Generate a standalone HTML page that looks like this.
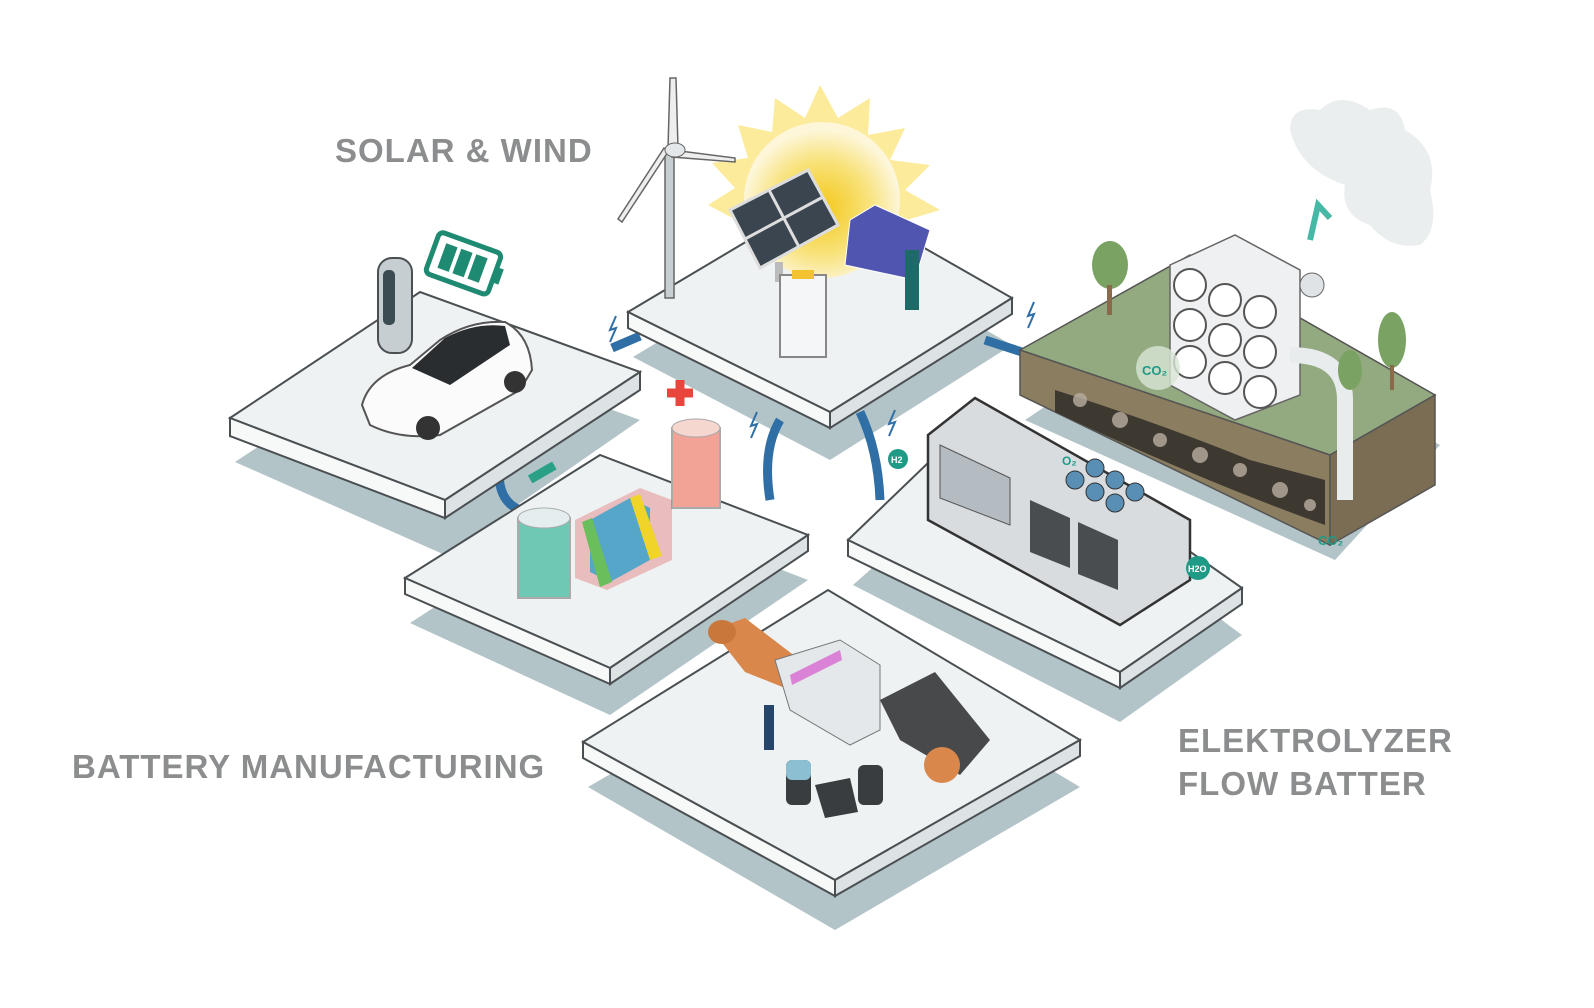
<!DOCTYPE html>
<html><head><meta charset="utf-8"><style>
html,body{margin:0;padding:0;background:#fff;width:1594px;height:1008px;overflow:hidden}
svg{display:block}
.t{font-family:"Liberation Sans",sans-serif;font-weight:bold;fill:#8b8d8e;letter-spacing:1px}
</style></head><body>
<svg width="1594" height="1008" viewBox="0 0 1594 1008" xmlns="http://www.w3.org/2000/svg">
<defs>
<radialGradient id="sun" cx="50%" cy="55%" r="50%"><stop offset="0" stop-color="#f4c81a"/><stop offset="0.6" stop-color="#f8e27a"/><stop offset="1" stop-color="#fdf6d8"/></radialGradient>
</defs>

<g fill="#b3c4c9">
<polygon points="235,462 420,340 640,420 445,555"/>
<polygon points="633,357 828,240 1012,345 830,460"/>
<polygon points="410,623 600,500 808,580 610,715"/>
<polygon points="853,585 1000,455 1242,635 1120,722"/>
<polygon points="588,787 838,642 1080,787 835,930"/>
<polygon points="1025,420 1190,310 1440,445 1335,560"/>
</g>

<g fill="none" stroke="#2f6fa6" stroke-width="9">
<path d="M612,348 L640,336"/>
<path d="M985,340 L1022,352"/>
<path d="M500,462 Q495,500 520,510"/>
<path d="M780,420 Q762,450 770,500"/>
<path d="M860,412 Q878,450 880,500"/>
</g>

<polygon points="230,418 420,292 640,372 445,500" fill="#eef2f3" stroke="#4a4f52" stroke-width="2"/>
<polygon points="230,418 445,500 445,518 230,436" fill="#f7f8f8" stroke="#4a4f52" stroke-width="2"/>
<polygon points="445,500 640,372 640,390 445,518" fill="#dde3e5" stroke="#4a4f52" stroke-width="2"/>
<rect x="378" y="258" width="34" height="95" rx="14" fill="#c7ced2" stroke="#4a4f52" stroke-width="2"/>
<rect x="383" y="270" width="12" height="55" rx="5" fill="#3c4a52"/>
<g transform="rotate(20 465 265)"><rect x="430" y="242" width="66" height="44" rx="5" fill="none" stroke="#1f8a72" stroke-width="5"/>
<rect x="440" y="251" width="12" height="26" fill="#1f8a72"/><rect x="456" y="251" width="12" height="26" fill="#1f8a72"/><rect x="472" y="251" width="12" height="26" fill="#1f8a72"/><rect x="497" y="256" width="6" height="16" fill="#1f8a72"/></g>
<path d="M362,405 Q370,375 410,365 L440,340 Q470,320 505,322 Q530,335 532,370 L520,390 L440,435 Q400,440 370,425 Z" fill="#fbfbfb" stroke="#555" stroke-width="2"/>
<path d="M412,368 L445,338 Q475,322 505,326 L510,345 L450,385 Z" fill="#2a2d30"/>
<circle cx="428" cy="428" r="12" fill="#333"/><circle cx="515" cy="382" r="11" fill="#333"/>

<polygon points="628,312 828,193 1012,298 830,412" fill="#eef2f3" stroke="#4a4f52" stroke-width="2"/>
<polygon points="628,312 830,412 830,428 628,328" fill="#f7f8f8" stroke="#4a4f52" stroke-width="2"/>
<polygon points="830,412 1012,298 1012,314 830,428" fill="#dde3e5" stroke="#4a4f52" stroke-width="2"/>
<polygon points="820,85 838,118 870,98 868,135 905,128 890,160 930,165 905,190 940,210 900,222 820,230 740,222 708,205 735,188 712,163 748,158 738,125 772,132 775,98 805,118" fill="#fbe88a" opacity="0.85"/>
<circle cx="822" cy="200" r="78" fill="url(#sun)"/>
<rect x="665" y="150" width="9" height="148" fill="#c8cfd3" stroke="#666" stroke-width="1.5"/>
<polygon points="670,78 676,78 678,148 668,148" fill="#eee" stroke="#666" stroke-width="1.5"/>
<polygon points="672,150 735,158 735,162 672,157" fill="#eee" stroke="#666" stroke-width="1.5"/>
<polygon points="668,152 622,222 618,219 664,148" fill="#eee" stroke="#666" stroke-width="1.5"/>
<ellipse cx="675" cy="150" rx="10" ry="7" fill="#e5e8ea" stroke="#666"/>
<polygon points="730,210 808,170 838,225 760,268" fill="#3a4550" stroke="#ddd" stroke-width="3"/>
<line x1="769" y1="190" x2="799" y2="247" stroke="#ddd" stroke-width="3"/><line x1="745" y1="239" x2="823" y2="197" stroke="#ddd" stroke-width="3"/>
<rect x="775" y="262" width="8" height="20" fill="#bbb"/>
<polygon points="850,220 875,205 930,230 915,280 845,265" fill="#5055b0" stroke="#fff" stroke-width="1"/>
<rect x="780" y="275" width="46" height="82" fill="#f4f6f7" stroke="#888" stroke-width="2"/>
<rect x="792" y="270" width="22" height="9" fill="#f2c230"/>
<rect x="905" y="250" width="14" height="60" fill="#1d6a69"/>

<polygon points="405,578 600,455 808,535 610,668" fill="#eef2f3" stroke="#4a4f52" stroke-width="2"/>
<polygon points="405,578 610,668 610,684 405,594" fill="#f7f8f8" stroke="#4a4f52" stroke-width="2"/>
<polygon points="610,668 808,535 808,551 610,684" fill="#dde3e5" stroke="#4a4f52" stroke-width="2"/>
<rect x="518" y="518" width="52" height="80" fill="#6fc8b3" stroke="#aaa" stroke-width="2"/>
<ellipse cx="544" cy="518" rx="26" ry="10" fill="#e5eeee" stroke="#aaa"/>
<rect x="672" y="428" width="48" height="80" fill="#f2a395" stroke="#aaa" stroke-width="2"/>
<ellipse cx="696" cy="428" rx="24" ry="9" fill="#f6d7d0" stroke="#aaa"/>
<polygon points="575,520 640,488 672,500 672,560 607,590 575,578" fill="#e05c5a" opacity="0.35"/>
<polygon points="590,520 630,498 650,508 650,560 610,582 590,572" fill="#56a6c9"/>
<polygon points="582,522 592,518 612,582 600,587" fill="#6abf5c"/>
<polygon points="630,498 640,494 662,556 650,560" fill="#f0d42a"/>
<path d="M680,380 v26 M667,393 h26" stroke="#e8453d" stroke-width="9"/>
<rect x="528" y="468" width="28" height="9" fill="#2aa187" transform="rotate(-30 542 472)"/>

<polygon points="1020,350 1190,255 1435,395 1330,455" fill="#93a97f" stroke="#555" stroke-width="1.5"/>
<polygon points="1020,350 1330,455 1330,545 1020,395" fill="#8b7d60" stroke="#555" stroke-width="1.5"/>
<polygon points="1330,455 1435,395 1435,485 1330,545" fill="#7a6d53" stroke="#555" stroke-width="1.5"/>
<path d="M1055,390 Q1150,420 1250,460 L1325,480 L1325,525 Q1200,480 1055,412 Z" fill="#3d3830"/>
<g fill="#b9aea0" opacity="0.8"><circle cx="1080" cy="400" r="7"/><circle cx="1120" cy="420" r="8"/><circle cx="1160" cy="440" r="7"/><circle cx="1200" cy="455" r="8"/><circle cx="1240" cy="470" r="7"/><circle cx="1280" cy="490" r="8"/><circle cx="1310" cy="505" r="6"/></g>
<polygon points="1170,265 1235,235 1300,270 1300,395 1235,420 1170,385" fill="#eef0f1" stroke="#666" stroke-width="1.5"/>
<g fill="#fff" stroke="#555" stroke-width="2"><circle cx="1190" cy="285" r="16"/><circle cx="1225" cy="300" r="16"/><circle cx="1260" cy="312" r="16"/><circle cx="1190" cy="325" r="16"/><circle cx="1225" cy="340" r="16"/><circle cx="1260" cy="352" r="16"/><circle cx="1190" cy="362" r="16"/><circle cx="1225" cy="378" r="16"/><circle cx="1260" cy="392" r="16"/></g>
<path d="M1290,355 Q1345,355 1345,400 L1345,500" fill="none" stroke="#e8eced" stroke-width="16"/>
<circle cx="1312" cy="285" r="12" fill="#dfe3e5" stroke="#666"/>
<ellipse cx="1110" cy="265" rx="18" ry="24" fill="#7aa363"/><rect x="1107" y="285" width="5" height="30" fill="#8a6a4a"/>
<ellipse cx="1392" cy="340" rx="14" ry="28" fill="#7aa363"/><rect x="1390" y="365" width="4" height="25" fill="#8a6a4a"/>
<ellipse cx="1350" cy="370" rx="12" ry="20" fill="#7aa363"/>
<path d="M1290,130 Q1290,105 1320,110 Q1340,90 1370,110 Q1400,100 1405,130 Q1440,150 1430,190 Q1440,230 1420,245 Q1390,250 1370,225 Q1340,215 1345,185 Q1300,170 1290,130 Z" fill="#e7ebec" opacity="0.85"/>
<path d="M1310,240 L1318,205 L1330,218" fill="none" stroke="#46b8a6" stroke-width="6"/>
<circle cx="1158" cy="368" r="22" fill="#d8e6d6" opacity="0.8"/>
<text x="1142" y="375" font-family="Liberation Sans,sans-serif" font-size="13" font-weight="bold" fill="#1f9a86">CO₂</text>
<text x="1318" y="545" font-family="Liberation Sans,sans-serif" font-size="13" font-weight="bold" fill="#1f9a86">CO₂</text>

<polygon points="848,540 985,408 1242,588 1120,672" fill="#eef2f3" stroke="#4a4f52" stroke-width="2"/>
<polygon points="848,540 1120,672 1120,688 848,556" fill="#f7f8f8" stroke="#4a4f52" stroke-width="2"/>
<polygon points="1120,672 1242,588 1242,604 1120,688" fill="#dde3e5" stroke="#4a4f52" stroke-width="2"/>
<polygon points="928,435 975,398 1190,520 1190,580 1120,625 928,520" fill="#d8dcdf" stroke="#333" stroke-width="2.5"/>
<polygon points="940,445 1010,478 1010,525 940,498" fill="#b5bcc1" stroke="#555"/>
<polygon points="1030,500 1070,518 1070,568 1030,552" fill="#4a4d50"/>
<polygon points="1078,522 1118,540 1118,590 1078,574" fill="#4a4d50"/>
<g fill="#5a8fb5" stroke="#333"><circle cx="1075" cy="480" r="9"/><circle cx="1095" cy="492" r="9"/><circle cx="1115" cy="503" r="9"/><circle cx="1095" cy="468" r="9"/><circle cx="1115" cy="480" r="9"/><circle cx="1135" cy="492" r="9"/></g>
<circle cx="898" cy="459" r="10" fill="#1f9a86"/><text x="891" y="463" font-family="Liberation Sans,sans-serif" font-size="9" font-weight="bold" fill="#fff">H2</text>
<text x="1062" y="465" font-family="Liberation Sans,sans-serif" font-size="12" font-weight="bold" fill="#1f9a86">O₂</text>
<circle cx="1198" cy="568" r="12" fill="#1f9a86"/><text x="1188" y="572" font-family="Liberation Sans,sans-serif" font-size="9" font-weight="bold" fill="#fff">H2O</text>

<polygon points="583,742 828,590 1080,740 835,880" fill="#eef2f3" stroke="#4a4f52" stroke-width="2"/>
<polygon points="583,742 835,880 835,896 583,758" fill="#f7f8f8" stroke="#4a4f52" stroke-width="2"/>
<polygon points="835,880 1080,740 1080,756 835,896" fill="#dde3e5" stroke="#4a4f52" stroke-width="2"/>
<polygon points="712,630 745,618 800,660 790,690 745,672" fill="#d9874a"/>
<ellipse cx="722" cy="632" rx="14" ry="12" fill="#c9773a"/>
<polygon points="775,660 840,640 880,665 880,730 850,745 790,710" fill="#e4e8ea" stroke="#777"/>
<polygon points="790,675 840,650 842,660 792,685" fill="#d33fc8" opacity="0.6"/>
<polygon points="880,700 935,672 990,740 960,775 900,740" fill="#47494b"/>
<circle cx="942" cy="765" r="18" fill="#d9874a"/>
<rect x="786" y="760" width="25" height="45" rx="6" fill="#3a3d40"/><rect x="786" y="760" width="25" height="20" rx="6" fill="#8cbfd1"/>
<rect x="858" y="765" width="25" height="40" rx="6" fill="#3a3d40"/>
<polygon points="815,785 850,778 858,812 825,818" fill="#3a3d40"/>
<rect x="764" y="705" width="10" height="45" fill="#25456b"/>

<g stroke="#2f6fa6" stroke-width="2" fill="none"><path d="M616,316 l-6,14 6,-2 -6,14"/><path d="M1034,302 l-6,14 6,-2 -6,14"/><path d="M757,412 l-6,14 6,-2 -6,14"/><path d="M895,410 l-6,14 6,-2 -6,14"/></g>

<text class="t" x="335" y="162" font-size="33">SOLAR &amp; WIND</text>
<text class="t" x="72" y="778" font-size="33">BATTERY MANUFACTURING</text>
<text class="t" x="1178" y="752" font-size="33">ELEKTROLYZER</text>
<text class="t" x="1178" y="795" font-size="33">FLOW BATTER</text>
</svg>
</body></html>
